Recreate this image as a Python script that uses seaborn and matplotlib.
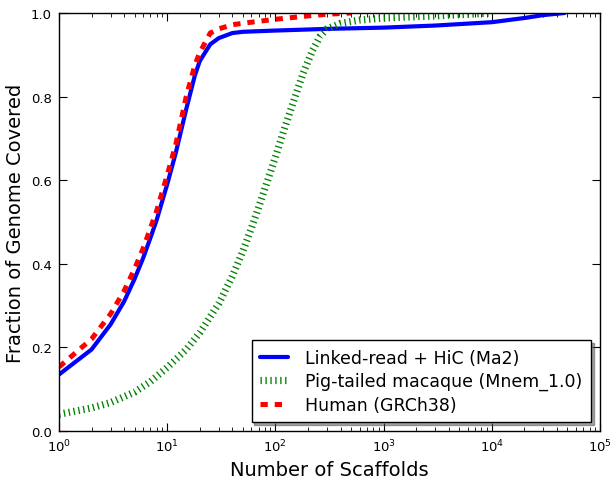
import matplotlib
matplotlib.use("Agg")
import matplotlib.pyplot as plt
import seaborn as sns
import pandas as pd

# Cumulative fraction of genome covered by the N largest scaffolds
ma2_n = [1, 2, 3, 4, 5, 6, 7, 8, 10, 12, 15, 18, 20, 25, 30, 40, 50, 100,
         300, 1000, 3000, 10000, 20000, 30000, 47000]
ma2_frac = [0.135, 0.195, 0.255, 0.31, 0.364, 0.414, 0.462, 0.505, 0.59,
            0.665, 0.77, 0.85, 0.885, 0.925, 0.94, 0.952, 0.955, 0.958,
            0.962, 0.965, 0.97, 0.978, 0.988, 0.995, 1.0]

mnem_n = [1, 2, 3, 5, 7, 10, 15, 20, 30, 40, 50, 60, 70, 80, 100, 120, 150,
          180, 220, 260, 300, 400, 600, 1000, 3000, 10000]
mnem_frac = [0.04, 0.055, 0.068, 0.093, 0.118, 0.152, 0.195, 0.235, 0.305,
             0.37, 0.43, 0.485, 0.535, 0.58, 0.655, 0.72, 0.795, 0.855,
             0.91, 0.945, 0.962, 0.975, 0.983, 0.988, 0.993, 1.0]

grch38_n = [1, 2, 3, 4, 5, 6, 7, 8, 10, 12, 15, 18, 20, 25, 30, 40, 60, 100,
            200, 300, 500]
grch38_frac = [0.153, 0.22, 0.28, 0.335, 0.388, 0.437, 0.485, 0.527, 0.612,
               0.685, 0.80, 0.875, 0.905, 0.952, 0.962, 0.972, 0.978, 0.985,
               0.993, 0.997, 1.0]

labels = ["Linked-read + HiC (Ma2)", "Pig-tailed macaque (Mnem_1.0)",
          "Human (GRCh38)"]

sns.set_style("ticks")
plt.rcParams["font.family"] = ["DejaVu Sans"]
plt.rcParams["lines.scale_dashes"] = False
plt.rcParams["xtick.direction"] = "in"
plt.rcParams["ytick.direction"] = "in"
plt.rcParams["xtick.top"] = True
plt.rcParams["ytick.right"] = True
plt.rcParams["text.color"] = "black"
plt.rcParams["axes.labelcolor"] = "black"
plt.rcParams["xtick.color"] = "black"
plt.rcParams["ytick.color"] = "black"

fig = plt.figure(figsize=(6.13, 4.81), dpi=100)
ax = fig.add_axes([0.0962, 0.1019, 0.8826, 0.869])

ma2 = pd.DataFrame({"n": ma2_n, "frac": ma2_frac})
mnem = pd.DataFrame({"n": mnem_n, "frac": mnem_frac})
grch38 = pd.DataFrame({"n": grch38_n, "frac": grch38_frac})

sns.lineplot(data=ma2, x="n", y="frac", ax=ax, color=(0, 0, 1),
             linewidth=3.0, estimator=None, sort=False, label=labels[0])
sns.lineplot(data=mnem, x="n", y="frac", ax=ax, color=(0, 0.5, 0),
             linewidth=5.2, linestyle=(0, (0.95, 2.6)), estimator=None,
             sort=False, label=labels[1])
sns.lineplot(data=grch38, x="n", y="frac", ax=ax, color=(1, 0, 0),
             linewidth=3.6, linestyle=(0, (5.25, 5.0)), estimator=None,
             sort=False, label=labels[2])

ax.set_xscale("log")
ax.set_xlim(1, 1e5)
ax.set_ylim(0, 1.0)
ax.set_yticks([0.0, 0.2, 0.4, 0.6, 0.8, 1.0])
ax.set_yticklabels(["0.0", "0.2", "0.4", "0.6", "0.8", "1.0"])
ax.tick_params(which="major", length=6, width=0.8, labelsize=9.5,
               colors="black", pad=5)
ax.tick_params(which="minor", length=3, width=0.6, colors="black")
for s in ax.spines.values():
    s.set_color("black")
    s.set_linewidth(1.0)

ax.set_xlabel("Number of Scaffolds", fontsize=14, color="black")
ax.set_ylabel("Fraction of Genome Covered", fontsize=14, color="black")

leg = ax.legend(loc="lower right", fontsize=12.5, frameon=True,
                fancybox=False, shadow=True, framealpha=1,
                edgecolor="black", handlelength=1.6, handletextpad=1.0,
                borderpad=0.5, labelspacing=0.3, borderaxespad=0.5)
leg.get_frame().set_linewidth(1.0)
for t in leg.get_texts():
    t.set_color("black")

fig.savefig("out.png", dpi=100, facecolor="white")
